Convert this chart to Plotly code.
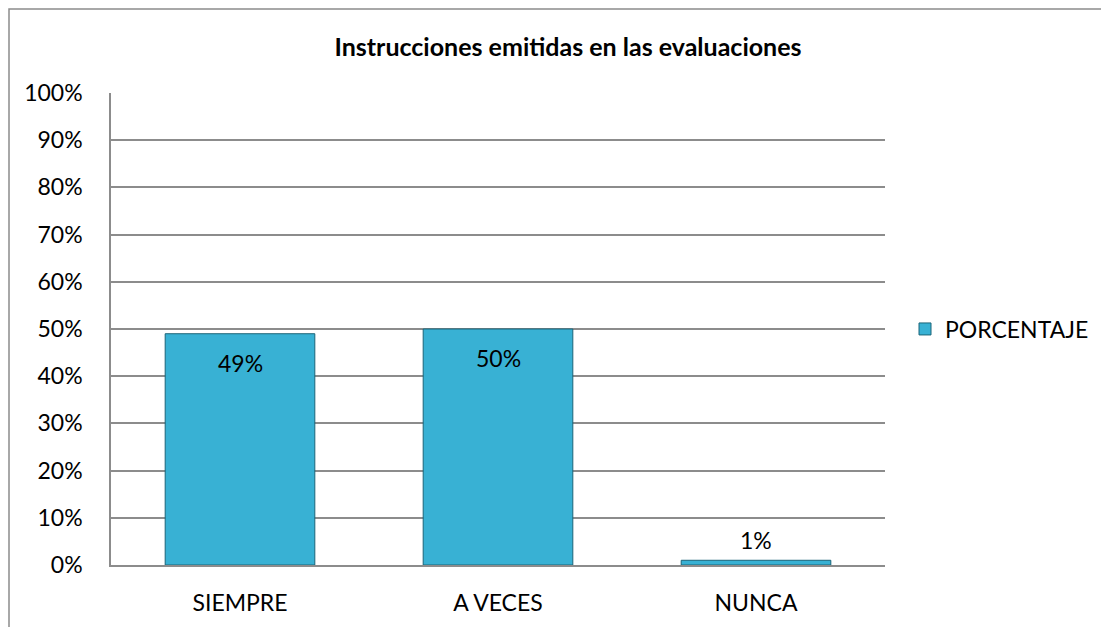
import plotly.graph_objects as go

categorias = ["SIEMPRE", "A VECES", "NUNCA"]
porcentajes = [0.49, 0.50, 0.01]
etiquetas = ["49%", "50%", "1%"]
dentro = [True, True, False]
ticks_y = [i / 10 for i in range(11)]
ticks_y_txt = [f"{i * 10}%" for i in range(11)]

# la página añade 8 px de margen al cuerpo
W, H = 1101, 619
L, R, T, B = 103, 224, 85, 62
PW, PH = W - L - R, H - T - B
FONT = "Lato, Carlito, Liberation Sans, Arial"

fig = go.Figure()

fig.add_trace(go.Bar(
    x=categorias,
    y=porcentajes,
    name="PORCENTAJE",
    marker=dict(color="#38b1d4", line=dict(color="#1b6478", width=1)),
    width=0.58,
    hoverinfo="x+y",
))

for cat, val, txt, ins in zip(categorias, porcentajes, etiquetas, dentro):
    fig.add_annotation(
        x=cat, y=val, text=txt, showarrow=False,
        yanchor="middle", yshift=-29 if ins else 20,
        font=dict(family=FONT, size=23, color="#000000"),
    )

fig.update_layout(
    width=W, height=H,
    margin=dict(l=L, r=R, t=T, b=B),
    plot_bgcolor="white",
    paper_bgcolor="white",
    font=dict(family=FONT, size=23, color="#000000"),
    title=dict(
        text="<b>Instrucciones emitidas en las evaluaciones</b>",
        x=(560 - L) / PW, xref="paper", xanchor="center",
        y=1 - 39 / H, yanchor="middle",
        font=dict(family=FONT, size=25, color="#000000"),
    ),
    showlegend=True,
    legend=dict(
        x=(897 - L) / PW, y=0.5, xanchor="left", yanchor="middle",
        font=dict(family=FONT, size=23),
        bgcolor="rgba(0,0,0,0)",
        itemwidth=30,
    ),
)

fig.update_yaxes(
    range=[0, 1],
    tickvals=ticks_y,
    ticktext=ticks_y_txt,
    showgrid=True, gridcolor="#8c8c8c", gridwidth=1.5,
    zeroline=False,
    showline=True, linecolor="#8c8c8c", linewidth=1.5,
    ticks="", ticklabelstandoff=22,
    tickfont=dict(family=FONT, size=23),
)
fig.update_xaxes(
    showline=True, linecolor="#8c8c8c", linewidth=1.5,
    ticks="", ticklabelstandoff=17,
    tickfont=dict(family=FONT, size=23),
)

# borde exterior del área del gráfico
fig.add_shape(
    type="rect", xref="paper", yref="paper",
    x0=(1 - L) / PW, x1=(W + 20 - L) / PW,
    y0=-(B + 20) / PH, y1=1 + (T - 1) / PH,
    line=dict(color="#8c8c8c", width=1.5), layer="below",
)

fig.write_html("out.html")
